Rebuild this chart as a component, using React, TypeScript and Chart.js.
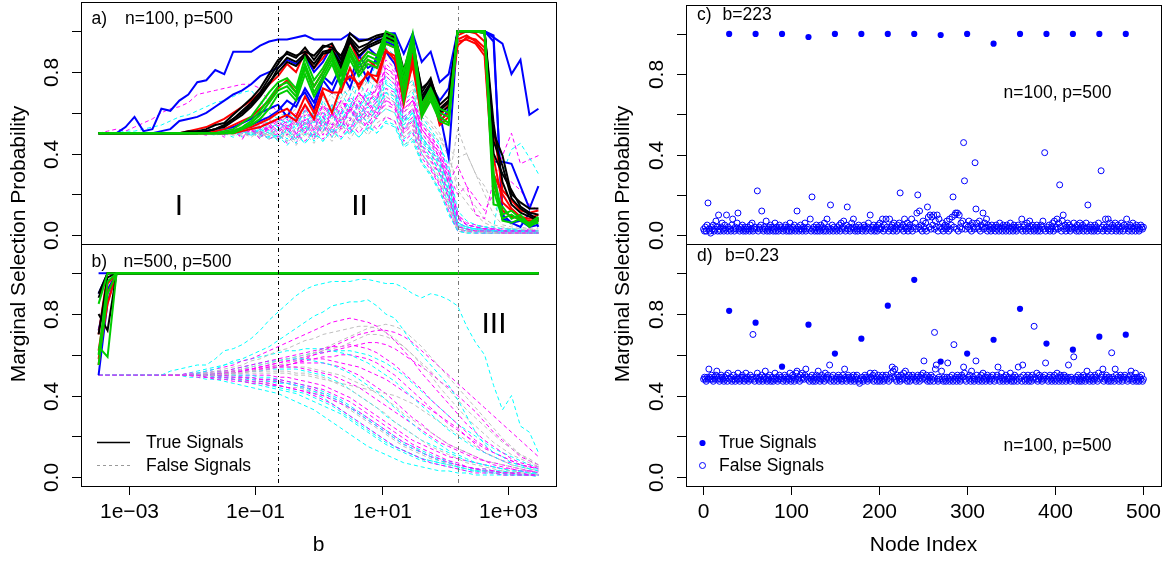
import React, { useEffect, useRef } from 'react';
import { Chart, registerables } from 'chart.js';

Chart.register(...registerables);

const W = 1167;
const H = 561;
const FONT = '"Liberation Sans", Arial, Helvetica, sans-serif';

// ---------- axes / categories ----------
const bValues = [
  3.334e-4, 4.624e-4, 6.412e-4, 8.892e-4, 1.233e-3, 1.706e-3, 2.366e-3, 3.281e-3, 4.55e-3, 6.31e-3,
  8.75e-3, 1.213e-2, 1.683e-2, 2.333e-2, 3.236e-2, 4.487e-2, 6.223e-2, 8.61e-2, 0.1194, 0.1656,
  0.2296, 0.3184, 0.4416, 0.6124, 0.8492, 1.178, 1.633, 2.265, 3.141, 4.355,
  6.039, 8.375, 11.61, 16.07, 22.28, 30.9, 42.85, 59.43, 82.41, 114.3,
  158.5, 219.8, 304.8, 422.7, 586.1, 810.9, 1125, 1560, 2163, 3000,
];
const bTickValues = [1e-3, 1e-1, 1e1, 1e3];
const bTickLabels = ['1e\u221203', '1e\u221201', '1e+01', '1e+03'];
const nodeTickValues = [0, 100, 200, 300, 400, 500];
const nodeTickLabels = ['0', '100', '200', '300', '400', '500'];
const yTickValues = [0, 0.2, 0.4, 0.6, 0.8, 1.0];
const yTickLabels = ['0.0', '', '0.4', '', '0.8', ''];
const regionBreaks = [0.2296, 158.5];

// ---------- panel a (n=100, p=500): true signals, values in % ----------
const aTrueGreen = [
  [50,50,50,50,50,50,50,50,50,50, 50,50,50,50,51,52,55,58,64,70, 75,77,72,87,76,82,90,80,92,84, 90,88,100,98,80,99,64,72,62,60, 100,100,100,100,30,10,12,8,6,9],
  [50,50,50,50,50,50,50,50,50,50, 50,50,50,50,50,51,53,56,61,67, 73,75,70,84,73,80,88,78,90,82, 88,86,98,96,76,97,62,70,60,58, 100,100,100,100,22,8,10,7,5,8],
  [50,50,50,50,50,50,50,50,50,50, 50,50,50,50,50,51,52,55,59,65, 71,73,68,82,70,78,86,75,88,80, 86,84,96,94,72,95,60,68,58,55, 100,100,100,99,15,14,8,10,5,6],
  [50,50,50,50,50,50,50,50,50,50, 50,50,50,50,50,50,52,54,57,62, 69,71,66,79,68,76,84,73,86,78, 84,82,94,92,66,93,58,66,56,54, 100,100,100,100,28,7,6,8,4,7],
];
const aTrueBlack = [
  [50,50,50,50,50,50,50,50,50,50, 51,51,52,54,55,59,63,67,72,79, 86,89,87,92,86,92,94,86,99,95, 96,98,99,98,81,96,70,77,62,66, 100,100,100,100,50,39,20,16,13,13],
  [50,50,50,50,50,50,50,50,50,50, 50,51,51,52,54,57,61,65,70,77, 84,90,88,90,88,93,92,88,97,92, 94,97,98,97,78,94,66,74,60,63, 100,100,100,99,40,30,22,14,11,10],
  [50,50,50,50,50,50,50,50,50,50, 50,50,51,52,53,56,59,63,68,74, 82,87,85,89,84,90,91,84,96,90, 93,95,97,96,80,93,72,76,64,68, 100,100,100,100,46,34,18,13,10,8],
  [50,50,50,50,50,50,50,50,50,50, 50,50,51,52,54,57,60,64,69,75, 80,85,83,88,82,89,90,82,95,88, 92,94,96,95,76,92,68,75,61,65, 100,100,100,100,55,26,15,11,9,7],
];
const aTrueRed = [
  [50,50,50,50,50,50,50,50,50,50, 51,52,53,55,57,60,63,66,70,74, 78,84,80,90,82,87,93,80,95,85, 90,88,97,96,72,92,64,70,56,60, 93,97,96,92,52,22,17,12,11,12],
  [50,50,50,50,50,50,50,50,50,50, 50,50,50,51,52,54,56,58,62,66, 72,76,70,82,73,80,88,74,90,80, 86,82,94,92,68,88,62,68,58,64, 96,98,95,90,30,20,13,9,8,10],
  [50,50,50,50,50,50,50,50,50,50, 50,50,50,50,50,51,52,53,55,57, 60,62,58,68,60,72,70,70,82,72, 80,75,90,88,64,85,60,66,62,66, 95,96,94,88,25,12,9,8,7,8],
  [50,50,50,50,50,50,50,50,50,50, 50,50,50,50,50,50,51,52,53,55, 57,59,56,64,57,70,60,73,78,74, 79,78,91,86,70,83,58,72,54,58, 98,100,99,95,38,16,12,9,6,7],
];
const aTrueBlue = [
  [50,50,50,53,58,51,52,62,61,66, 69,75,76,81,79,90,90,90,93,95, 96,96,97,98,96,96,96,96,99,96, 96,96,99,99,89,99,85,90,75,79, 100,100,100,100,97,94,79,86,59,62],
  [50,50,50,50,50,50,50,51,52,56, 57,58,60,63,66,69,71,74,78,80, 82,86,84,88,80,85,93,84,96,87, 92,88,97,95,74,90,62,70,55,62, 100,100,100,100,36,36,35,24,13,24],
  [50,50,50,50,50,50,50,50,50,50, 50,50,50,51,52,53,55,57,60,62, 64,58,66,70,62,76,70,80,72,85, 76,88,90,84,70,88,66,72,60,38, 100,100,100,100,95,10,6,7,4,5],
  [50,50,50,50,50,50,50,50,50,50, 50,50,50,50,50,51,52,54,56,58, 61,66,63,72,65,78,74,83,76,88, 82,85,95,93,78,95,68,74,66,72, 100,100,100,100,98,8,6,4,11,4],
];

// ---------- panel a: false signals (sample of the dashed band), values in % ----------
const aFalseMagenta = [
  [50,51,52,51,53,55,57,60,62,63, 65,69,70,71,72,73,74,74,72,65, 60,62,55,63,56,64,58,66,60,70, 64,72,78,74,60,66,52,46,38,28, 10,5,4,3,3,2,2,2,2,2],
  [50,50,50,50,50,50,50,50,50,50, 50,51,50,51,52,51,53,52,55,53, 56,52,58,50,57,49,60,52,62,55, 60,57,66,63,52,58,44,40,33,20, 4,3,2,2,2,1,1,1,1,1],
  [50,50,50,50,50,50,50,50,50,50, 50,50,50,50,49,51,48,52,47,54, 50,55,49,57,51,58,53,60,56,64, 58,66,80,76,58,62,50,44,38,25, 8,5,4,3,3,2,2,2,2,2],
  [50,50,50,50,50,50,50,50,50,50, 50,50,50,50,51,50,52,51,53,52, 55,51,57,52,59,53,61,55,63,58, 65,60,72,70,56,62,48,42,36,26, 34,24,10,8,27,39,50,35,37,39],
  [50,50,50,50,50,50,50,50,50,50, 50,50,50,50,50,52,50,53,49,55, 51,57,50,59,52,61,54,63,57,66, 60,68,84,80,62,66,52,46,40,28, 6,4,3,3,2,2,2,2,2,2],
  [50,50,50,50,50,50,50,50,50,50, 50,50,50,50,50,50,50,49,51,47, 50,45,50,46,52,47,53,48,55,50, 56,52,58,56,46,50,38,32,24,12, 2,2,1,1,1,1,1,1,1,1],
  [50,50,50,50,50,50,50,50,50,50, 50,50,50,51,50,53,51,55,52,57, 53,59,54,61,56,63,58,66,61,70, 64,74,86,82,64,68,54,48,42,32, 10,6,5,4,3,3,3,2,3,2],
  [50,50,50,50,50,50,50,50,50,50, 50,50,50,50,50,50,50,51,50,52, 48,54,47,56,49,58,50,59,52,61, 54,62,66,64,50,54,42,36,30,18, 3,2,2,2,1,1,1,1,1,1],
  [50,50,50,50,50,50,50,50,50,50, 50,50,50,50,50,51,52,53,55,54, 57,55,60,56,62,58,64,60,68,63, 72,67,82,78,62,66,52,47,40,30, 20,24,18,12,20,28,26,22,15,12],
  [50,50,50,50,50,50,50,50,50,50, 50,50,49,51,48,52,47,53,49,54, 47,53,45,55,47,56,48,57,50,59, 52,60,64,62,48,52,40,33,25,14, 3,2,2,1,1,1,1,1,1,1],
  [50,50,50,50,50,50,50,50,50,50, 50,50,50,50,50,50,51,52,53,55, 56,58,57,61,59,63,61,65,64,69, 67,72,82,79,64,68,54,49,42,31, 9,5,4,3,3,2,2,2,2,2],
  [50,50,50,50,50,50,50,50,50,50, 50,50,50,50,50,50,50,50,52,50, 54,49,56,50,58,51,60,53,62,56, 64,59,68,65,51,56,43,37,30,18, 4,3,2,2,2,2,2,1,1,1],
];
const aFalseCyan = [
  [50,50,50,51,51,52,53,54,56,58, 59,61,63,65,66,68,70,71,66,60, 57,55,58,53,60,55,62,56,64,58, 66,62,70,68,55,60,48,42,35,22, 6,4,3,3,2,2,3,2,2,2],
  [50,50,50,50,50,50,50,50,50,50, 50,50,50,49,50,48,51,49,52,50, 48,52,47,54,48,56,50,55,52,60, 55,62,75,70,54,60,46,40,30,18, 4,3,3,2,2,2,2,2,1,1],
  [50,50,50,50,50,50,50,50,50,50, 50,50,50,50,50,51,52,54,56,55, 58,60,57,64,58,68,62,72,68,80, 74,85,95,92,72,76,58,52,45,30, 8,5,4,4,3,30,42,45,38,30],
  [50,50,50,50,50,50,50,50,50,50, 50,50,50,50,50,50,51,49,52,48, 53,47,55,49,57,51,59,53,61,55, 63,58,70,66,52,57,44,38,32,20, 5,4,3,2,2,2,2,2,2,1],
  [50,50,50,50,50,50,50,50,50,50, 50,50,50,50,50,50,50,50,49,48, 49,46,50,45,51,46,52,47,53,48, 54,50,56,54,44,48,36,30,22,10, 2,1,1,1,1,1,1,1,1,1],
  [50,50,50,50,50,50,50,50,50,50, 50,50,50,50,50,52,50,54,51,56, 53,58,52,62,55,66,58,70,62,76, 66,80,92,88,66,70,56,50,44,34, 12,7,5,4,4,3,3,3,2,2],
  [50,50,50,50,50,50,50,50,50,50, 50,50,50,50,50,50,50,50,48,51, 46,52,45,53,46,54,48,55,49,57, 51,58,62,60,47,51,40,34,27,15, 3,2,2,1,1,1,1,1,1,1],
  [50,50,50,50,50,50,50,50,50,50, 50,50,50,50,51,50,52,50,54,51, 56,52,59,54,61,56,64,58,67,62, 70,66,78,74,58,62,48,42,36,24, 4,3,3,3,2,2,2,2,2,2],
  [50,50,50,50,50,50,50,50,50,50, 50,50,50,51,49,52,48,53,50,55, 51,56,50,58,52,60,54,62,56,65, 58,67,76,72,56,60,47,41,34,21, 5,3,2,2,2,2,2,1,1,1],
  [50,50,50,50,50,50,50,50,50,50, 50,50,50,50,50,50,50,49,50,47, 49,44,49,45,50,46,51,47,52,48, 53,50,55,53,43,46,35,29,21,11, 2,1,1,1,1,1,1,1,1,1],
  [50,50,50,50,50,50,50,50,50,50, 50,50,50,50,50,50,51,50,53,51, 55,53,58,55,60,57,63,59,66,62, 69,65,74,71,57,61,48,43,37,25, 6,4,3,3,3,2,2,2,2,2],
];
const aFalseGray = [
  [50,50,50,50,50,50,50,50,50,50, 50,50,51,50,52,51,53,52,54,56, 55,58,54,60,55,62,57,64,60,68, 63,72,88,85,66,72,55,50,46,42, 38,40,30,20,10,5,4,3,3,2],
  [50,50,50,50,50,50,50,50,50,50, 50,50,50,50,50,49,50,48,51,47, 52,46,53,48,54,50,56,51,58,54, 60,57,68,65,50,55,42,36,28,16, 3,2,2,2,1,1,1,1,1,1],
  [50,50,50,50,50,50,50,50,50,50, 50,50,50,50,50,50,49,51,48,50, 47,50,46,51,47,53,48,54,50,56, 52,58,62,60,48,52,40,34,26,14, 3,2,2,1,1,1,1,1,1,1],
  [50,50,50,50,50,50,50,50,50,50, 50,50,50,50,51,52,54,55,57,56, 60,58,62,60,66,62,68,64,72,68, 76,72,90,86,70,74,58,54,48,38, 26,20,14,8,5,4,3,3,2,2],
  [50,50,50,50,50,50,50,50,50,50, 50,50,50,50,50,50,49,50,48,51, 49,53,48,55,50,57,52,58,54,62, 57,64,72,68,54,58,46,40,34,22, 5,3,2,2,2,2,1,1,1,1],
  [50,50,50,50,50,50,50,50,50,50, 50,50,50,50,50,50,50,50,51,49, 52,50,56,51,58,53,60,55,63,58, 67,62,80,76,60,64,50,45,38,26, 52,40,30,24,15,8,5,4,3,3],
  [50,50,50,50,50,50,50,50,50,50, 50,50,50,50,50,50,50,50,50,49, 47,49,44,50,45,51,46,52,47,54, 49,55,58,56,44,47,36,30,22,12, 2,1,1,1,1,1,1,1,1,1],
  [50,50,50,50,50,50,50,50,50,50, 50,50,50,50,50,51,50,52,49,53, 48,54,47,55,48,57,50,58,52,61, 55,63,70,68,52,56,44,38,31,19, 4,3,2,2,2,1,1,1,1,1],
  [50,50,50,50,50,50,50,50,50,50, 50,50,50,50,52,53,55,57,58,57, 61,60,64,62,67,64,70,67,74,71, 78,75,92,88,72,76,60,56,50,40, 22,16,10,6,4,3,3,2,2,2],
];

// ---------- panel b (n=500, p=500), values in % ----------
const bPlateau = [100,100,100,100,100,100,100,100, 100,100,100,100,100,100,100,100,100,100, 100,100,100,100,100,100,100,100,100,100, 100,100,100,100,100,100,100,100,100,100, 100,100,100,100,100,100,100,100,100,100];
const bTrueGreen = [[85,100, ...bPlateau], [64,59, ...bPlateau], [60,96, ...bPlateau], [55,90, ...bPlateau]];
const bTrueBlack = [[90,100, ...bPlateau], [80,72, ...bPlateau], [70,98, ...bPlateau], [88,100, ...bPlateau]];
const bTrueRed = [[58,85, ...bPlateau], [62,90, ...bPlateau], [55,95, ...bPlateau], [70,100, ...bPlateau]];
const bTrueBlue = [[100,100, ...bPlateau], [72,92, ...bPlateau], [50,86, ...bPlateau], [90,100, ...bPlateau]];

const bFalseMagenta = [
  [50,50,50,50,50,50,50,50,50,50, 50,50,49,49,49,48,48,47,47,46, 45,44,43,42,40,38,36,33,30,27, 24,21,18,15,13,11,9,7,6,5, 4,3,2,2,2,1,1,1,1,1],
  [50,50,50,50,50,50,50,50,50,50, 50,50,50,50,50,49,49,49,48,48, 48,47,46,45,44,43,41,39,37,34, 31,28,25,22,19,16,14,12,10,8, 7,5,4,4,3,2,2,2,1,1],
  [50,50,50,50,50,50,50,50,50,50, 51,51,52,53,54,55,57,58,60,62, 64,66,68,70,72,74,76,77,78,77, 76,74,71,67,62,57,51,46,41,36, 31,26,22,18,15,12,9,7,6,4],
  [50,50,50,50,50,50,50,50,50,50, 50,51,51,52,52,53,54,55,56,57, 58,59,60,61,62,63,64,64,65,64, 63,61,58,55,51,47,43,38,34,30, 26,22,18,15,12,10,8,6,5,4],
  [50,50,50,50,50,50,50,50,50,50, 50,49,49,48,48,47,47,46,46,45, 45,44,43,42,41,40,38,36,34,32, 29,26,23,20,17,15,12,10,9,7, 6,5,4,3,3,2,2,1,1,1],
  [50,50,50,50,50,50,50,50,50,50, 50,50,50,51,51,52,52,53,53,54, 54,54,54,53,52,51,50,48,46,44, 41,38,35,32,29,26,23,20,17,15, 13,11,9,8,6,5,4,3,3,2],
  [50,50,50,50,50,50,50,50,50,50, 50,50,50,50,51,51,52,53,54,55, 56,57,58,59,60,61,62,63,64,65, 66,66,65,63,60,57,54,51,47,44, 40,36,32,27,22,18,14,10,8,6],
  [50,50,50,50,50,50,50,50,50,50, 50,50,50,50,51,51,52,52,53,53, 54,55,56,57,58,59,59,60,60,59, 58,56,53,50,46,42,38,34,30,26, 23,20,17,14,12,10,8,6,5,4],
  [50,50,50,50,50,50,50,50,50,50, 50,50,50,51,51,52,52,53,54,55, 56,57,57,58,58,58,57,56,55,54, 52,50,48,45,42,39,36,33,30,27, 24,20,16,12,10,8,7,6,5,5],
  [50,50,50,50,50,50,50,50,50,50, 50,50,50,50,49,49,49,48,48,47, 47,46,45,44,43,41,39,37,34,31, 28,25,22,19,16,14,12,10,8,7, 6,5,4,3,3,2,2,2,1,1],
  [50,50,50,50,50,50,50,50,50,50, 50,50,51,51,52,52,53,53,54,54, 55,55,56,56,56,56,55,54,52,50, 47,44,41,37,33,29,26,22,19,16, 14,12,10,8,7,6,5,4,3,3],
  [50,50,50,50,50,50,50,50,50,50, 50,50,50,50,50,50,50,50,50,50, 49,49,48,47,46,45,43,41,39,36, 33,30,27,24,21,18,16,14,12,10, 9,8,7,6,5,4,4,3,3,2],
  [50,50,50,50,50,50,50,50,50,50, 50,50,50,50,50,51,51,52,52,53, 54,55,56,58,60,62,64,66,68,70, 71,72,72,71,69,66,62,58,54,50, 46,42,38,34,30,26,22,18,14,10],
];
const bFalseCyan = [
  [50,50,50,50,50,50,50,50,52,53, 54,55,55,58,62,63,65,68,72,77, 81,85,89,92,94,95,96,96,96,97, 97,96,95,95,93,90,88,90,89,87, 84,74,66,60,45,33,40,25,22,12],
  [50,50,50,50,50,50,50,50,50,50, 50,51,52,53,55,57,58,60,62,64, 67,70,73,76,79,81,84,85,86,86, 87,84,80,78,72,65,60,55,50,45, 38,30,22,16,12,10,7,6,4,4],
  [50,50,50,50,50,50,50,50,50,50, 50,50,50,50,49,49,48,48,47,47, 46,46,45,44,42,41,39,37,34,31, 28,25,22,19,16,14,12,10,8,7, 5,4,3,3,2,2,1,1,1,1],
  [50,50,50,50,50,50,50,50,50,50, 50,51,51,52,52,53,54,55,56,57, 57,58,58,58,57,56,55,53,51,48, 45,42,38,34,30,26,22,19,16,13, 11,9,7,6,5,4,3,3,2,2],
  [50,50,50,50,50,50,50,50,50,50, 50,50,49,49,48,48,47,46,45,44, 43,42,41,39,37,35,33,31,28,25, 22,19,16,14,12,10,8,7,6,5, 4,3,3,2,2,1,1,1,1,1],
  [50,50,50,50,50,50,50,50,50,50, 51,52,53,54,55,56,57,58,59,60, 61,62,62,63,63,63,62,61,60,58, 56,53,50,47,43,39,35,31,27,23, 20,17,14,12,10,8,6,5,4,3],
  [50,50,50,50,50,50,50,50,50,50, 49,49,48,48,47,46,45,44,43,42, 41,39,37,35,33,30,27,24,21,18, 15,13,11,9,7,6,5,4,3,3, 2,2,1,1,1,1,1,1,1,0],
  [50,50,50,50,50,50,50,50,50,50, 50,50,50,51,51,51,52,52,52,53, 53,53,53,52,51,50,48,46,43,40, 37,34,30,27,24,21,18,16,14,12, 10,8,7,6,5,4,3,3,2,2],
  [50,50,50,50,50,50,50,50,50,50, 50,50,50,49,49,48,47,47,46,45, 44,43,42,41,39,37,35,32,29,26, 23,20,17,15,13,11,9,8,7,6, 5,4,4,3,3,3,2,3,2,2],
  [50,50,50,50,50,50,50,50,50,50, 50,50,50,50,50,50,50,50,49,49, 48,47,46,45,44,42,40,38,35,32, 29,26,23,20,17,15,13,11,9,8, 6,5,4,4,3,3,2,2,2,1],
  [50,50,50,50,50,50,50,50,50,50, 50,50,50,50,50,50,49,49,48,48, 47,46,45,43,41,39,36,33,30,27, 24,21,18,15,13,11,9,8,7,6, 5,4,3,3,2,2,2,1,1,1],
  [50,50,50,50,50,50,50,50,50,50, 50,50,50,51,51,52,53,54,55,56, 57,58,59,60,61,61,62,62,62,61, 60,58,56,53,50,46,42,38,34,30, 26,23,20,17,14,12,10,8,6,5],
];
const bFalseGray = [
  [50,50,50,50,50,50,50,50,50,50, 50,50,50,50,51,51,51,52,52,52, 52,52,51,51,50,49,47,45,43,40, 37,34,31,27,24,21,18,15,13,11, 9,7,6,5,4,3,3,2,2,1],
  [50,50,50,50,50,50,50,50,50,50, 50,51,51,52,53,54,55,57,58,60, 62,63,65,67,68,70,71,72,73,74, 74,73,71,68,64,60,55,50,44,39, 34,29,25,21,17,14,11,9,7,5],
  [50,50,50,50,50,50,50,50,50,50, 50,50,51,51,52,52,53,54,55,56, 57,58,59,60,61,62,63,64,66,68, 70,70,69,67,64,60,56,52,47,43, 38,33,29,25,21,17,14,11,9,6],
  [50,50,50,50,50,50,50,50,50,50, 50,50,50,50,50,50,51,51,51,51, 51,51,50,50,49,48,47,46,45,44, 43,42,41,40,38,36,33,30,27,24, 21,18,15,12,10,8,6,5,4,3],
  [50,50,50,50,50,50,50,50,50,50, 50,50,49,49,48,48,47,47,46,46, 45,44,44,43,42,40,38,36,33,30, 27,24,21,18,15,13,11,9,8,6, 5,4,3,3,2,2,2,1,1,1],
  [50,50,50,50,50,50,50,50,50,50, 50,50,50,50,50,51,51,52,53,54, 55,56,57,59,61,63,65,67,69,71, 73,74,75,74,72,68,64,59,54,49, 44,39,34,29,24,19,15,11,8,5],
  [50,50,50,50,50,50,50,50,50,50, 50,50,50,50,51,51,52,52,53,53, 54,54,54,54,53,52,51,50,48,46, 44,41,38,35,31,28,25,22,19,16, 14,12,10,8,7,6,5,4,3,2],
];

// ---------- panels c / d: node-wise probabilities ----------
const trueNodes = [30, 60, 90, 120, 150, 180, 210, 240, 270, 300, 330, 360, 390, 420, 450, 480];
const cTrueProb = [1.0, 1.0, 1.0, 0.985, 1.0, 1.0, 1.0, 1.0, 0.995, 1.0, 0.952, 1.0, 1.0, 1.0, 1.0, 1.0];
const dTrueProb = [0.816, 0.758, 0.542, 0.748, 0.606, 0.679, 0.841, 0.968, 0.567, 0.606, 0.674, 0.826, 0.655, 0.625, 0.689, 0.699];
// false-signal probabilities in %, node 1..500 (null where the node is a true signal)
const cFalsePct = [
  3,2,4,2,5,16,3,2,1,4,3,5,2,3,7,4,2,10,3,2,4,6,3,2,5,
  3,10,2,4,null,3,2,5,8,3,2,4,3,6,11,3,2,4,3,5,2,3,4,2,3,
  4,3,2,5,3,6,2,3,4,null,3,22,2,4,3,5,12,3,2,4,3,7,2,3,4,
  2,5,3,4,2,3,6,2,4,3,2,5,3,4,null,2,3,4,5,2,3,4,2,6,3,
  2,4,3,5,2,3,12,4,2,3,5,3,2,4,3,6,2,3,4,null,3,8,2,19,3,
  4,2,3,5,2,4,3,2,5,3,4,2,6,3,2,8,4,3,2,15,3,5,2,4,null,
  3,2,4,3,5,2,6,3,4,7,3,2,5,14,3,4,2,3,6,4,8,3,2,4,3,
  2,5,3,4,null,2,3,5,4,2,3,4,6,3,10,2,4,3,5,2,3,4,2,5,3,
  6,3,4,8,2,5,3,8,4,null,2,8,3,4,5,2,6,3,4,2,5,3,6,21,4,
  3,5,2,8,4,3,6,2,4,5,3,8,2,4,null,6,3,11,20,4,12,3,5,2,7,
  4,3,6,2,14,9,4,10,3,9,5,10,3,7,4,10,2,8,4,null,3,6,2,4,5,
  3,7,4,2,8,3,5,9,19,4,10,11,3,11,2,10,4,6,3,7,46,27,3,5,null,
  4,7,3,5,2,6,4,3,36,13,6,4,3,7,2,5,4,11,3,6,4,8,2,5,3,
  4,2,5,3,null,4,2,5,3,4,2,6,3,4,2,5,3,4,2,5,3,4,2,6,3,
  4,2,5,3,4,2,3,5,4,null,3,8,2,4,5,3,2,6,4,3,7,2,4,5,3,
  2,4,3,5,2,4,3,2,5,4,7,3,41,2,null,4,3,5,2,3,4,6,2,7,3,
  4,8,3,6,25,4,2,7,10,3,5,2,4,6,3,5,2,4,3,null,6,3,4,2,5,
  3,2,6,4,3,5,2,4,3,6,2,15,4,3,5,2,4,3,2,5,3,4,2,6,null,
  3,32,4,2,5,3,8,4,2,8,3,6,4,2,5,3,4,6,2,3,5,4,2,3,6,
  4,2,5,3,null,8,4,2,3,5,4,2,6,3,4,2,5,3,4,2,3,5,4,3,4,
];
const dFalsePct = [
  48,49,48,47,49,48,53,49,48,50,48,47,49,48,50,52,48,49,47,48,50,49,48,47,49,
  48,50,47,51,null,48,49,47,48,50,48,47,49,48,51,48,47,49,48,50,49,47,48,51,48,
  49,47,48,50,48,49,70,48,47,null,49,51,48,47,49,48,50,47,48,49,52,48,47,49,48,
  50,47,48,49,47,48,51,48,49,47,48,50,48,49,null,47,48,50,49,47,48,49,48,51,47,
  48,50,49,47,48,51,52,48,49,47,50,48,51,49,48,50,53,49,48,null,47,49,48,50,47,
  48,49,47,50,48,52,49,47,48,50,48,49,47,51,48,49,50,48,55,47,49,48,50,47,null,
  48,49,47,50,48,49,48,47,50,48,53,49,47,48,50,49,48,47,49,48,50,47,48,49,50,
  48,47,46,48,null,49,47,48,50,49,48,47,49,48,51,49,48,50,47,51,48,49,47,50,48,
  47,49,48,50,47,48,49,50,48,null,47,49,48,51,54,52,49,53,48,47,50,49,48,47,50,
  48,49,51,48,52,49,47,48,50,47,49,48,50,49,null,48,47,49,50,48,47,49,50,48,51,
  57,49,48,50,47,48,49,47,50,48,49,47,71,53,55,48,47,49,48,null,52,48,47,49,48,
  47,49,56,48,47,49,48,50,47,65,48,49,47,50,48,49,47,48,50,49,54,51,48,47,null,
  49,48,50,47,52,48,49,47,48,57,50,48,47,49,48,50,47,51,48,49,47,48,50,49,48,
  47,49,48,50,null,47,48,49,50,54,48,47,49,51,48,47,49,48,50,47,48,49,48,51,47,
  48,49,47,50,48,49,47,54,48,null,49,47,55,50,48,47,49,48,50,47,48,49,47,50,48,
  74,49,48,51,47,48,50,49,48,47,49,48,50,56,null,48,47,49,50,48,47,49,48,50,47,
  48,51,49,47,48,50,49,47,48,50,49,47,48,49,55,48,47,49,48,null,59,48,47,49,48,
  50,47,48,49,47,48,50,49,47,48,52,49,48,47,50,48,49,47,48,50,49,48,47,51,null,
  48,49,50,53,47,48,49,50,48,47,49,48,47,61,49,48,47,53,50,48,49,47,48,50,49,
  47,48,49,50,null,48,47,49,48,50,52,48,47,49,48,51,47,49,48,47,49,48,50,47,48,
];

// ---------- styling / layout ----------
const COLORS = {
  black: '#000000', red: '#FF0000', green: '#00CD00', blue: '#0000FF',
  cyan: '#00FFFF', magenta: '#FF00FF', gray: '#BEBEBE',
};
const Y_MIN = -0.044;
const Y_MAX = 1.144;
const LOG_MIN = 1.758e-4;
const LOG_MAX = 5689;
const NODE_MIN = -18.96;
const NODE_MAX = 519.96;
const AREA_A = { left: 81, right: 556, top: 2, bottom: 244 };
const AREA_B = { left: 81, right: 556, top: 244, bottom: 486 };
const AREA_C = { left: 686, right: 1161, top: 2, bottom: 244 };
const AREA_D = { left: 686, right: 1161, top: 244, bottom: 486 };
const AXIS_PX = 21;
const INNER_PX = 17.5;
const ROMAN_PX = 30;
const TICK = 9;

function lineSet(vals: number[], color: string, isTrue: boolean) {
  return {
    data: vals.map((v, i) => ({ x: bValues[i], y: v / 100 })),
    borderColor: color,
    backgroundColor: color,
    borderWidth: isTrue ? 2 : 1,
    borderDash: isTrue ? [] : [4, 3],
    pointRadius: 0,
    tension: 0,
    fill: false,
    order: isTrue ? 0 : 1,
  };
}

function interleave(groups: { lines: number[][]; color: string }[]) {
  const out: any[] = [];
  const n = Math.max(...groups.map((g) => g.lines.length));
  for (let k = 0; k < n; k++) {
    for (const g of groups) if (g.lines[k]) out.push(lineSet(g.lines[k], g.color, false));
  }
  return out;
}

type TextItem = { text: string; x: number; y: number; size: number; align?: CanvasTextAlign; rotate?: boolean };

function decorPlugin(spec: {
  key: string;
  vlines?: { value: number; color: string }[];
  xTicks?: { values: number[]; labels: string[] };
  texts: TextItem[];
  extra?: (ctx: CanvasRenderingContext2D) => void;
}) {
  return {
    id: 'decor' + spec.key,
    afterDatasetsDraw(chart: any) {
      const ctx: CanvasRenderingContext2D = chart.ctx;
      const a = chart.chartArea;
      const xs = chart.scales.x;
      const ys = chart.scales.y;
      ctx.save();
      ctx.lineWidth = 1;
      for (const vl of spec.vlines || []) {
        const px = Math.round(xs.getPixelForValue(vl.value)) + 0.5;
        ctx.strokeStyle = vl.color;
        ctx.setLineDash([1, 3, 4, 3]);
        ctx.beginPath();
        ctx.moveTo(px, a.top);
        ctx.lineTo(px, a.bottom);
        ctx.stroke();
      }
      ctx.setLineDash([]);
      ctx.strokeStyle = '#000';
      ctx.strokeRect(Math.round(a.left) + 0.5, Math.round(a.top) + 0.5, Math.round(a.right - a.left), Math.round(a.bottom - a.top));
      ctx.fillStyle = '#000';
      ctx.font = `${AXIS_PX}px ${FONT}`;
      yTickValues.forEach((v, k) => {
        const py = Math.round(ys.getPixelForValue(v)) + 0.5;
        ctx.beginPath();
        ctx.moveTo(a.left - TICK, py);
        ctx.lineTo(a.left, py);
        ctx.stroke();
        const lab = yTickLabels[k];
        if (lab) {
          ctx.save();
          ctx.translate(a.left - 29, py);
          ctx.rotate(-Math.PI / 2);
          ctx.textAlign = 'center';
          ctx.textBaseline = 'middle';
          ctx.fillText(lab, 0, 0);
          ctx.restore();
        }
      });
      if (spec.xTicks) {
        spec.xTicks.values.forEach((v, k) => {
          const px = Math.round(xs.getPixelForValue(v)) + 0.5;
          ctx.beginPath();
          ctx.moveTo(px, a.bottom);
          ctx.lineTo(px, a.bottom + TICK);
          ctx.stroke();
          ctx.textAlign = 'center';
          ctx.textBaseline = 'middle';
          ctx.fillText(spec.xTicks!.labels[k], px, a.bottom + 26);
        });
      }
      for (const t of spec.texts) {
        ctx.font = `${t.size}px ${FONT}`;
        ctx.textAlign = t.align || 'left';
        ctx.textBaseline = 'middle';
        if (t.rotate) {
          ctx.save();
          ctx.translate(t.x, t.y);
          ctx.rotate(-Math.PI / 2);
          ctx.textAlign = 'center';
          ctx.fillText(t.text, 0, 0);
          ctx.restore();
        } else {
          ctx.fillText(t.text, t.x, t.y);
        }
      }
      if (spec.extra) spec.extra(ctx);
      ctx.restore();
    },
  };
}

function baseOptions(area: any, xScale: any) {
  return {
    animation: false,
    responsive: false,
    maintainAspectRatio: false,
    devicePixelRatio: 1,
    events: [],
    layout: { padding: { left: area.left, top: area.top, right: W - area.right, bottom: H - area.bottom } },
    plugins: { legend: { display: false }, tooltip: { enabled: false }, title: { display: false } },
    scales: {
      x: { ...xScale, display: false },
      y: { type: 'linear', min: Y_MIN, max: Y_MAX, display: false },
    },
  };
}

function lineChart(canvas: HTMLCanvasElement, area: any, trueGroups: any, falseGroups: any, plugin: any) {
  const datasets = [
    ...trueGroups.green.map((l: number[]) => lineSet(l, COLORS.green, true)),
    ...trueGroups.black.map((l: number[]) => lineSet(l, COLORS.black, true)),
    ...trueGroups.red.map((l: number[]) => lineSet(l, COLORS.red, true)),
    ...trueGroups.blue.map((l: number[]) => lineSet(l, COLORS.blue, true)),
    ...interleave([
      { lines: falseGroups.magenta, color: COLORS.magenta },
      { lines: falseGroups.cyan, color: COLORS.cyan },
      { lines: falseGroups.gray, color: COLORS.gray },
    ]),
  ];
  return new Chart(canvas, {
    type: 'line',
    data: { datasets },
    options: baseOptions(area, { type: 'logarithmic', min: LOG_MIN, max: LOG_MAX }) as any,
    plugins: [plugin],
  });
}

function scatterChart(canvas: HTMLCanvasElement, area: any, trueProb: number[], falsePct: (number | null)[], plugin: any) {
  const truePts = trueNodes.map((n, k) => ({ x: n, y: trueProb[k] }));
  const falsePts: { x: number; y: number }[] = [];
  falsePct.forEach((v, k) => {
    if (v !== null && !trueNodes.includes(k + 1)) falsePts.push({ x: k + 1, y: v / 100 });
  });
  return new Chart(canvas, {
    type: 'scatter',
    data: {
      datasets: [
        { data: truePts, pointRadius: 3.1, pointBackgroundColor: COLORS.blue, pointBorderColor: COLORS.blue, pointBorderWidth: 0, showLine: false },
        { data: falsePts, pointRadius: 3, pointBackgroundColor: 'rgba(0,0,0,0)', pointBorderColor: COLORS.blue, pointBorderWidth: 1, showLine: false },
      ],
    },
    options: baseOptions(area, { type: 'linear', min: NODE_MIN, max: NODE_MAX }) as any,
    plugins: [plugin],
  });
}

const vlines = [
  { value: regionBreaks[0], color: '#000000' },
  { value: regionBreaks[1], color: '#777777' },
];

export default function App() {
  const refA = useRef<HTMLCanvasElement>(null);
  const refB = useRef<HTMLCanvasElement>(null);
  const refC = useRef<HTMLCanvasElement>(null);
  const refD = useRef<HTMLCanvasElement>(null);

  useEffect(() => {
    const charts: Chart[] = [];
    charts.push(
      lineChart(
        refA.current!,
        AREA_A,
        { green: aTrueGreen, black: aTrueBlack, red: aTrueRed, blue: aTrueBlue },
        { magenta: aFalseMagenta, cyan: aFalseCyan, gray: aFalseGray },
        decorPlugin({
          key: 'a',
          vlines,
          texts: [
            { text: 'a)', x: 91.5, y: 19, size: INNER_PX },
            { text: 'n=100, p=500', x: 125, y: 19, size: INNER_PX },
            { text: 'I', x: 179, y: 207, size: ROMAN_PX, align: 'center' },
            { text: 'II', x: 359.5, y: 207, size: ROMAN_PX, align: 'center' },
          ],
        })
      )
    );
    charts.push(
      lineChart(
        refB.current!,
        AREA_B,
        { green: bTrueGreen, black: bTrueBlack, red: bTrueRed, blue: bTrueBlue },
        { magenta: bFalseMagenta, cyan: bFalseCyan, gray: bFalseGray },
        decorPlugin({
          key: 'b',
          vlines,
          xTicks: { values: bTickValues, labels: bTickLabels },
          texts: [
            { text: 'b)', x: 91.5, y: 262, size: INNER_PX },
            { text: 'n=500, p=500', x: 123.5, y: 262, size: INNER_PX },
            { text: 'III', x: 494, y: 325, size: ROMAN_PX, align: 'center' },
            { text: 'True Signals', x: 146, y: 443.5, size: INNER_PX },
            { text: 'False Signals', x: 146, y: 466, size: INNER_PX },
            { text: 'b', x: 318.5, y: 545, size: AXIS_PX, align: 'center' },
            { text: 'Marginal Selection Probability', x: 19, y: 244, size: AXIS_PX, rotate: true },
          ],
          extra: (ctx) => {
            ctx.lineWidth = 1.3;
            ctx.strokeStyle = '#000';
            ctx.beginPath();
            ctx.moveTo(97, 442.5);
            ctx.lineTo(130, 442.5);
            ctx.stroke();
            ctx.strokeStyle = '#999999';
            ctx.lineWidth = 1;
            ctx.setLineDash([3, 3]);
            ctx.beginPath();
            ctx.moveTo(97, 465.5);
            ctx.lineTo(130, 465.5);
            ctx.stroke();
            ctx.setLineDash([]);
          },
        })
      )
    );
    charts.push(
      scatterChart(
        refC.current!,
        AREA_C,
        cTrueProb,
        cFalsePct,
        decorPlugin({
          key: 'c',
          texts: [
            { text: 'c)', x: 697, y: 15, size: INNER_PX },
            { text: 'b=223', x: 722.5, y: 15, size: INNER_PX },
            { text: 'n=100, p=500', x: 1057.5, y: 93, size: INNER_PX, align: 'center' },
          ],
        })
      )
    );
    charts.push(
      scatterChart(
        refD.current!,
        AREA_D,
        dTrueProb,
        dFalsePct,
        decorPlugin({
          key: 'd',
          xTicks: { values: nodeTickValues, labels: nodeTickLabels },
          texts: [
            { text: 'd)', x: 697, y: 256, size: INNER_PX },
            { text: 'b=0.23', x: 725, y: 256, size: INNER_PX },
            { text: 'True Signals', x: 719, y: 443.5, size: INNER_PX },
            { text: 'False Signals', x: 719, y: 466, size: INNER_PX },
            { text: 'n=100, p=500', x: 1057.5, y: 446, size: INNER_PX, align: 'center' },
            { text: 'Node Index', x: 923.5, y: 545, size: AXIS_PX, align: 'center' },
            { text: 'Marginal Selection Probability', x: 623, y: 244, size: AXIS_PX, rotate: true },
          ],
          extra: (ctx) => {
            ctx.fillStyle = COLORS.blue;
            ctx.beginPath();
            ctx.arc(702.5, 443, 3.1, 0, Math.PI * 2);
            ctx.fill();
            ctx.strokeStyle = COLORS.blue;
            ctx.lineWidth = 1;
            ctx.beginPath();
            ctx.arc(702.5, 465.5, 3, 0, Math.PI * 2);
            ctx.stroke();
          },
        })
      )
    );
    return () => charts.forEach((c) => c.destroy());
  }, []);

  const cs: React.CSSProperties = { position: 'absolute', left: 0, top: 0, width: W, height: H };
  return (
    <div style={{ position: 'absolute', left: 0, top: 0, width: W, height: H, background: '#ffffff' }}>
      <canvas ref={refA} width={W} height={H} style={cs} />
      <canvas ref={refB} width={W} height={H} style={cs} />
      <canvas ref={refC} width={W} height={H} style={cs} />
      <canvas ref={refD} width={W} height={H} style={cs} />
    </div>
  );
}
